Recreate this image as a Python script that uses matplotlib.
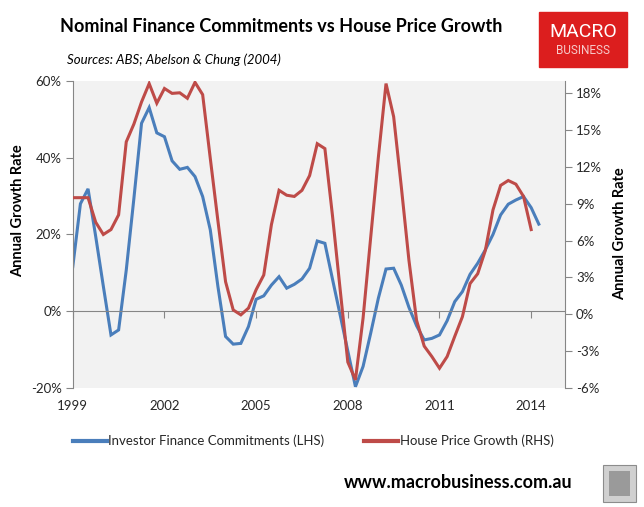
import numpy as np
import matplotlib
matplotlib.use("Agg")
import matplotlib.pyplot as plt
from matplotlib.lines import Line2D
from matplotlib.patches import Rectangle
from matplotlib.ticker import FuncFormatter

plt.rcParams["font.family"] = ["Lato", "DejaVu Sans"]

# quarterly series, first quarter of 1999 onwards
investor_finance = [
    11.6, 28.0, 31.9, 19.5, 6.5, -6.2, -4.9, 10.7, 29.4, 49.0, 53.1, 46.5,
    45.5, 39.2, 37.0, 37.5, 35.1, 29.9, 21.2, 6.4, -6.6, -8.6, -8.4, -4.0,
    3.1, 4.0, 6.8, 9.0, 6.0, 7.0, 8.4, 11.2, 18.3, 17.7, 8.3, -1.0,
    -10.4, -19.7, -14.4, -5.7, 3.4, 11.0, 11.2, 6.8, 1.0, -3.8, -7.5, -7.1,
    -6.2, -2.5, 2.5, 5.1, 9.6, 12.5, 16.0, 20.0, 25.1, 27.9, 29.0, 29.9,
    27.0, 22.7,
]
house_price = [
    9.5, 9.5, 9.5, 7.5, 6.5, 6.9, 8.1, 14.05, 15.5, 17.3, 18.8, 17.2,
    18.4, 18.0, 18.05, 17.6, 18.9, 17.9, 12.7, 7.6, 2.65, 0.35, -0.05, 0.5,
    2.0, 3.2, 7.3, 10.1, 9.7, 9.6, 10.1, 11.3, 13.9, 13.5, 8.0, 2.0,
    -3.9, -5.35, -0.3, 6.3, 12.8, 18.8, 16.1, 10.4, 4.4, -0.5, -2.6, -3.45,
    -4.4, -3.45, -1.8, -0.2, 2.5, 3.3, 5.2, 8.5, 10.5, 10.9, 10.6, 9.6,
    6.9,
]
year_ticks = [1999, 2002, 2005, 2008, 2011, 2014]
lhs_ticks = [-20, 0, 20, 40, 60]
rhs_ticks = [-6, -3, 0, 3, 6, 9, 12, 15, 18]

BLUE = "#4A7EBB"
RED = "#BE4B48"
AXIS = "#868686"
TXT = "#262626"

x_blue = 1999 + 0.25 * np.arange(len(investor_finance))
x_red = 1999 + 0.25 * np.arange(len(house_price))

fig = plt.figure(figsize=(6.44, 5.07), dpi=100)
ax = fig.add_axes([0.113, 0.235, 0.764, 0.605])
ax.set_facecolor("#F2F2F2")
ax2 = ax.twinx()

ax.plot(x_blue, investor_finance, color=BLUE, lw=2.2, solid_joinstyle="miter")
ax2.plot(x_red, house_price, color=RED, lw=2.2, solid_joinstyle="miter")

ax.set_xlim(1999, 2015.1)
ax.set_ylim(-20, 60)
ax2.set_ylim(-6, 19)
ax.set_yticks(lhs_ticks)
ax2.set_yticks(rhs_ticks)
pct = FuncFormatter(lambda v, _: f"{v:.0f}%")
ax.yaxis.set_major_formatter(pct)
ax2.yaxis.set_major_formatter(pct)

for a in (ax, ax2):
    a.spines["top"].set_visible(False)
    for s in ("left", "right", "bottom"):
        a.spines[s].set_color(AXIS)
ax2.spines["bottom"].set_visible(False)
ax.spines["right"].set_visible(False)
ax2.spines["left"].set_visible(False)
ax.spines["bottom"].set_position(("data", 0))

ax.tick_params(axis="y", direction="out", length=5, color=AXIS, labelsize=9.5,
               labelcolor=TXT, pad=3)
ax2.tick_params(axis="y", direction="out", length=5, color=AXIS, labelsize=9.5,
                labelcolor=TXT, pad=3)
ax.set_xticks(year_ticks)
ax.tick_params(axis="x", direction="out", length=5, color=AXIS, labelbottom=False)

sec = ax.secondary_xaxis("bottom")
sec.set_xticks(year_ticks)
sec.set_xticklabels([str(y) for y in year_ticks])
sec.spines["bottom"].set_visible(False)
sec.tick_params(length=0, pad=9, labelsize=9.5, labelcolor=TXT)

fig.text(0.093, 1 - 27 / 507, "Nominal Finance Commitments vs House Price Growth",
         fontsize=13, fontweight="bold", color="black", va="center", ha="left")
fig.text(0.104, 1 - 60 / 507, "Sources: ABS; Abelson & Chung (2004)",
         fontsize=9.5, style="italic", color="black", va="center", ha="left")

fig.text(18 / 644, 1 - 211 / 507, "Annual Growth Rate", rotation=90,
         fontsize=10.5, fontweight="bold", va="center", ha="center")
fig.text(620 / 644, 1 - 234 / 507, "Annual Growth Rate", rotation=90,
         fontsize=10.5, fontweight="bold", va="center", ha="center")

# logo
fig.patches.append(Rectangle((539 / 644, 1 - 67 / 507), 88 / 644, 55 / 507,
                             transform=fig.transFigure, color="#DC1E1E", zorder=0))
fig.text(583 / 644, 1 - 32 / 507, "MACRO", family=["Roboto", "DejaVu Sans"],
         fontsize=14, color="white", ha="center", va="center")
fig.text(583 / 644, 1 - 51 / 507, "BUSINESS", family=["Roboto", "DejaVu Sans"],
         fontsize=8.5, color="#F6CACA", ha="center", va="center")

handles = [Line2D([], [], color=BLUE, lw=3), Line2D([], [], color=RED, lw=3)]
fig.legend(handles, ["Investor Finance Commitments (LHS)", "House Price Growth (RHS)"],
           loc="center", bbox_to_anchor=(0.486, 1 - 441 / 507), ncol=2, frameon=False,
           fontsize=9.5, handlelength=2.6, handletextpad=0.1, columnspacing=3.0,
           labelcolor=TXT)

fig.text(572 / 644, 1 - 483 / 507, "www.macrobusiness.com.au", fontsize=13,
         fontweight="bold", ha="right", va="center", color="black")
# small fox badge
fig.patches.append(Rectangle((603 / 644, 1 - 502 / 507), 33 / 644, 37 / 507,
                             transform=fig.transFigure, facecolor="#D0D0D0",
                             edgecolor="#8C8C8C", lw=0.8, zorder=0))
fig.patches.append(Rectangle((609 / 644, 1 - 496 / 507), 21 / 644, 25 / 507,
                             transform=fig.transFigure, facecolor="#9A9A9A",
                             edgecolor="none", zorder=0))

fig.savefig("out.png", dpi=100)
